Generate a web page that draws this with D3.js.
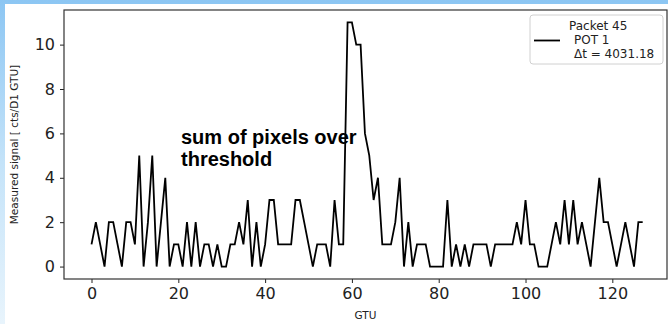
<!DOCTYPE html>
<html lang="en">
<head>
    <meta charset="UTF-8">
    <title>Packet 45 - sum of pixels over threshold</title>
    <script src="https://d3js.org/d3.v7.min.js"></script>
    <style>
        html, body { margin: 0; padding: 0; }
        body {
            width: 668px;
            height: 324px;
            overflow: hidden;
            background: linear-gradient(to bottom, #8cc6f3 0%, #c4e3f9 50%, #e8f4fc 100%);
        }
        svg { display: block; }
    </style>
</head>
<body>
    <svg width="668" height="324"></svg>

    <script>
        // Signal per GTU (one value per GTU, starting at GTU 0)
        const signal = [
            1, 2, 1, 0, 2, 2, 1, 0, 2, 2,
            1, 5, 0, 2, 5, 0, 2, 4, 0, 1,
            1, 0, 2, 0, 2, 0, 1, 1, 0, 1,
            0, 0, 1, 1, 2, 1, 3, 0, 2, 0,
            1, 3, 3, 1, 1, 1, 1, 3, 3, 2,
            1, 0, 1, 1, 1, 0, 3, 1, 1, 11,
            11, 10, 10, 6, 5, 3, 4, 1, 1, 1,
            2, 4, 0, 2, 0, 1, 1, 1, 0, 0,
            0, 0, 3, 0, 1, 0, 1, 0, 1, 1,
            1, 1, 0, 1, 1, 1, 1, 1, 2, 1,
            3, 1, 1, 0, 0, 0, 1, 2, 1, 3,
            1, 3, 1, 2, 1, 0, 2, 4, 2, 2,
            1, 0, 1, 2, 1, 0, 2, 2
        ];
        const xTicks = [0, 20, 40, 60, 80, 100, 120];
        const yTicks = [0, 2, 4, 6, 8, 10];
        const legendLines = ["Packet 45", "POT 1", "\u0394t = 4031.18"];
        const note = ["sum of pixels over", "threshold"];

        const width = 668, height = 324;
        const plot = { left: 64, right: 667, top: 10, bottom: 279 };

        const svg = d3.select("svg");

        // white slide area
        svg.append("rect")
           .attr("x", 5).attr("y", 4)
           .attr("width", width - 5).attr("height", height - 4)
           .attr("fill", "#ffffff");

        const x = d3.scaleLinear()
                    .domain([-6.34, 132.6])
                    .range([plot.left, plot.right]);

        const y = d3.scaleLinear()
                    .domain([-0.56, 11.56])
                    .range([plot.bottom, plot.top]);

        // X axis
        const xAxis = svg.append("g")
           .attr("transform", `translate(0,${plot.bottom})`)
           .call(d3.axisBottom(x).tickValues(xTicks).tickSize(4).tickPadding(5));
        xAxis.select(".domain").remove();
        xAxis.selectAll("text")
             .style("font-family", "DejaVu Sans")
             .style("font-size", "16px")
             .attr("fill", "#222");

        // Y axis
        const yAxis = svg.append("g")
           .attr("transform", `translate(${plot.left},0)`)
           .call(d3.axisLeft(y).tickValues(yTicks).tickSize(4).tickPadding(5));
        yAxis.select(".domain").remove();
        yAxis.selectAll("text")
             .style("font-family", "DejaVu Sans")
             .style("font-size", "16px")
             .attr("fill", "#222");
        svg.selectAll(".tick line").attr("stroke", "#222");

        // frame
        svg.append("rect")
           .attr("x", plot.left).attr("y", plot.top)
           .attr("width", plot.right - plot.left)
           .attr("height", plot.bottom - plot.top)
           .attr("fill", "none")
           .attr("stroke", "#333")
           .attr("stroke-width", 1.2);

        // signal line
        const line = d3.line()
                       .x((d, i) => x(i))
                       .y(d => y(d));

        svg.append("path")
           .datum(signal)
           .attr("fill", "none")
           .attr("stroke", "#000")
           .attr("stroke-width", 1.8)
           .attr("stroke-linejoin", "miter")
           .attr("d", line);

        // annotation
        svg.append("text")
           .attr("x", 181)
           .attr("y", 144)
           .style("font-family", "Liberation Sans, Arial, sans-serif")
           .style("font-size", "20px")
           .style("font-weight", "bold")
           .selectAll("tspan")
           .data(note)
           .enter().append("tspan")
           .attr("x", 181)
           .attr("dy", (d, i) => i === 0 ? 0 : 22)
           .text(d => d);

        // axis labels
        svg.append("text")
           .attr("x", (plot.left + plot.right) / 2)
           .attr("y", 319)
           .attr("text-anchor", "middle")
           .style("font-family", "DejaVu Sans")
           .style("font-size", "10.5px")
           .attr("fill", "#222")
           .text("GTU");

        svg.append("text")
           .attr("transform", "rotate(-90)")
           .attr("x", -(plot.top + plot.bottom) / 2)
           .attr("y", 18)
           .attr("text-anchor", "middle")
           .style("font-family", "DejaVu Sans")
           .style("font-size", "10.5px")
           .attr("fill", "#222")
           .text("Measured signal [ cts/D1 GTU]");

        // legend
        const legend = svg.append("g");
        legend.append("rect")
              .attr("x", 530).attr("y", 15)
              .attr("width", 133).attr("height", 49)
              .attr("rx", 3)
              .attr("fill", "#fff")
              .attr("fill-opacity", 0.8)
              .attr("stroke", "#d0d0d0");
        legend.append("line")
              .attr("x1", 534).attr("x2", 560)
              .attr("y1", 40.5).attr("y2", 40.5)
              .attr("stroke", "#000")
              .attr("stroke-width", 1.8);
        legend.selectAll(".leg-text")
              .data(legendLines)
              .enter().append("text")
              .attr("class", "leg-text")
              .attr("x", (d, i) => i === 0 ? 569 : 574)
              .attr("y", (d, i) => 29.5 + i * 14.2)
              .style("font-family", "DejaVu Sans")
              .style("font-size", "12px")
              .attr("fill", "#222")
              .text(d => d);
    </script>
</body>
</html>
